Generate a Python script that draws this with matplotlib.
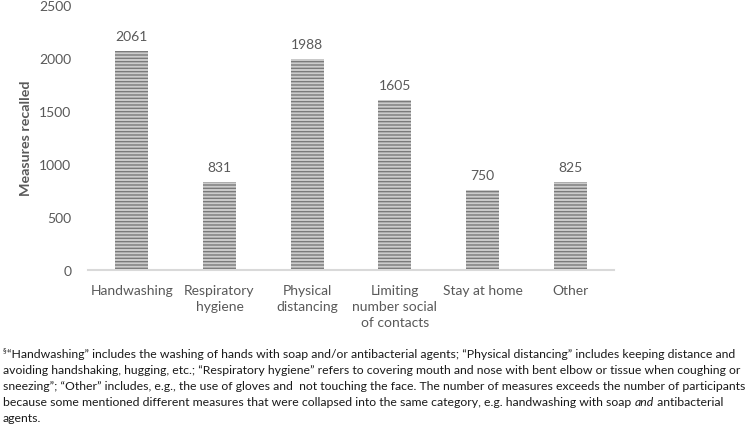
import matplotlib
matplotlib.use("Agg")
import matplotlib.pyplot as plt
from matplotlib import font_manager as fm

categories = ["Handwashing", "Respiratory\nhygiene", "Physical\ndistancing",
              "Limiting\nnumber social\nof contacts", "Stay at home", "Other"]
values = [2061, 831, 1988, 1605, 750, 825]
yticks = [0, 500, 1000, 1500, 2000, 2500]
ylabel = "Measures recalled"
foot_mark = "\u00a7"
foot_lines = [
    "\u201cHandwashing\u201d includes the washing of hands with soap and/or antibacterial agents; \u201cPhysical distancing\u201d includes keeping distance and",
    "avoiding handshaking, hugging, etc.; \u201cRespiratory hygiene\u201d refers to covering mouth and nose with bent elbow or tissue when coughing or",
    "sneezing\u201d; \u201cOther\u201d includes, e.g., the use of gloves and  not touching the face. The number of measures exceeds the number of participants",
]
foot_last_a = "because some mentioned different measures that were collapsed into the same category, e.g. handwashing with soap "
foot_last_b = "and"
foot_last_c = " antibacterial"
foot_final = "agents."

def pick(cands):
    for c in cands:
        try:
            fm.findfont(fm.FontProperties(family=c), fallback_to_default=False)
            return c
        except Exception:
            pass
    return "DejaVu Sans"

FONT = pick(["Liberation Sans Narrow", "Lato", "Roboto", "Open Sans"])
plt.rcParams['font.family'] = [FONT, 'DejaVu Sans']
plt.rcParams['hatch.linewidth'] = 1.0

W, H = 752, 427
fig = plt.figure(figsize=(W / 100, H / 100), dpi=100)
ax = fig.add_axes([88 / W, 1 - 271 / H, (614 - 88) / W, (271 - 5.6) / H])
fig.canvas.draw()
r = fig.canvas.get_renderer()

def fit(txt, target, base=10, **kw):
    t = fig.text(0, 0, txt, fontsize=base, **kw)
    w = t.get_window_extent(r).width
    t.remove()
    return base * target / w

gray = "#595959"
fs_tick = fit("Handwashing", 83)
fs_foot = fit(foot_mark + foot_lines[0], 740)

x = list(range(len(categories)))
ax.bar(x, values, width=0.38, color="#cccccc", edgecolor="#7a7a7a",
       linewidth=0, hatch="-----")
for xi, v in zip(x, values):
    ax.annotate(f"{v}", (xi, v), xytext=(0, 6.5), textcoords="offset points",
                ha="center", va="bottom", fontsize=fs_tick, color=gray)

ax.set_xlim(-0.5, len(categories) - 0.5)
ax.set_ylim(0, 2500)
ax.set_yticks(yticks)
ax.set_yticklabels([str(t) for t in yticks], fontsize=fs_tick, color=gray)
ax.set_xticks(x)
ax.set_xticklabels(categories, fontsize=fs_tick, color=gray, linespacing=1.4)
ax.tick_params(axis="both", length=0)
ax.tick_params(axis="y", pad=12)
ax.tick_params(axis="x", pad=10)
for s in ["top", "right", "left"]:
    ax.spines[s].set_visible(False)
ax.spines["bottom"].set_color("#d9d9d9")
ax.spines["bottom"].set_linewidth(1.5)
ax.set_ylabel(ylabel, fontsize=fs_tick * 1.02, color=gray, fontweight="bold", labelpad=5)

ink = "#1a1a1a"
ys = [355, 371, 387, 403, 419]
tm = fig.text(3 / W, 1 - (ys[0] - 4) / H, foot_mark, fontsize=fs_foot * 0.6, color=ink,
              va="center", ha="left")
xa = 3 + tm.get_window_extent(r).width
fig.text(xa / W, 1 - ys[0] / H, foot_lines[0], fontsize=fs_foot, color=ink, va="center", ha="left")
for yy, line in zip(ys[1:3], foot_lines[1:]):
    fig.text(3 / W, 1 - yy / H, line, fontsize=fs_foot, color=ink, va="center", ha="left")
xa = 3
for part, style in [(foot_last_a, "normal"), (foot_last_b, "italic"), (foot_last_c, "normal")]:
    t = fig.text(xa / W, 1 - ys[3] / H, part, fontsize=fs_foot, color=ink,
                 va="center", ha="left", style=style)
    xa += t.get_window_extent(r).width
fig.text(3 / W, 1 - ys[4] / H, foot_final, fontsize=fs_foot, color=ink, va="center", ha="left")

fig.savefig("out.png", dpi=100)
